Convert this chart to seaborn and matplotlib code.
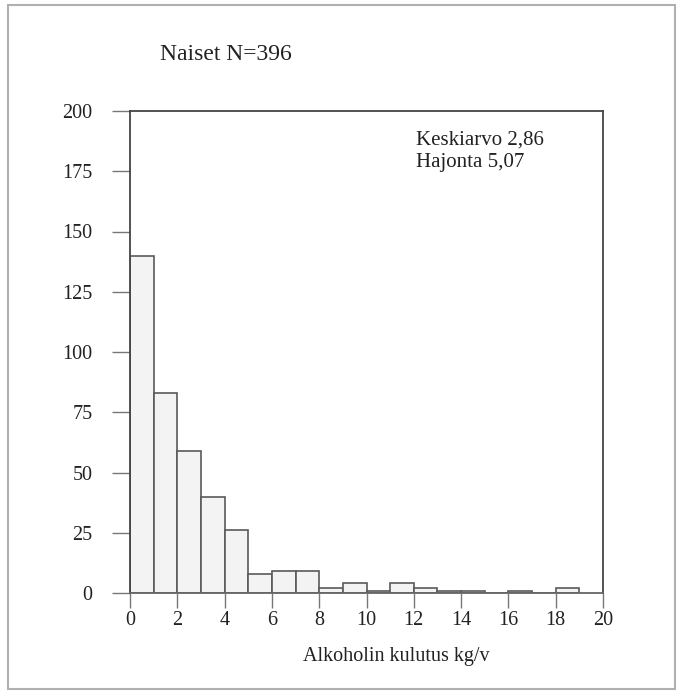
import matplotlib
matplotlib.use("Agg")
import matplotlib.pyplot as plt
import seaborn as sns
import numpy as np
import pandas as pd

# histogram counts, bins of width 1 from 0 to 19
bin_edges = list(range(0, 20))
counts = [140, 83, 59, 40, 26, 8, 9, 9, 2, 4, 1, 4, 2, 1, 1, 0, 1, 0, 2]
x_ticks = [0, 2, 4, 6, 8, 10, 12, 14, 16, 18, 20]
y_ticks = [0, 25, 50, 75, 100, 125, 150, 175, 200]

title_text = "Naiset N=396"
stats_text = "Keskiarvo 2,86\nHajonta 5,07"
x_label = "Alkoholin kulutus kg/v"

sns.set_style("ticks")
plt.rcParams['font.family'] = ['Liberation Serif', 'DejaVu Serif']

df = pd.DataFrame({"kg": [e + 0.5 for e in bin_edges[:-1]], "n": counts})

fig = plt.figure(figsize=(6.77, 6.93), dpi=100)
ax = fig.add_axes([130 / 677, 1 - 593 / 693, 473 / 677, 482 / 693])

sns.histplot(data=df, x="kg", weights="n", bins=bin_edges, ax=ax,
             color="#f3f3f3", edgecolor="#5a5a5a", linewidth=1.2, alpha=1)

ax.set_xlim(0, 20)
ax.set_ylim(0, 200)
ax.set_xticks(x_ticks)
ax.set_yticks(y_ticks)
ax.set_xlabel("")
ax.set_ylabel("")
for s in ax.spines.values():
    s.set_color("#444444")
    s.set_linewidth(1.3)
ax.spines["bottom"].set_color("#666666")
ax.tick_params(axis="y", length=13, width=1, color="#777777", pad=14,
               labelsize=14.5, labelcolor="#222222")
ax.tick_params(axis="x", length=11, width=1, color="#777777", pad=2,
               labelsize=14.5, labelcolor="#222222")

fig.text(160 / 677, 1 - 55 / 693, title_text, fontsize=17, color="#222222",
         ha="left", va="center")
ax.text(0.605, 0.96, stats_text, transform=ax.transAxes, fontsize=15,
        color="#222222", ha="left", va="top", linespacing=1.3)
fig.text(396 / 677, 1 - 657 / 693, x_label, fontsize=14.5, color="#222222",
         ha="center", va="center")

# scanned page frame
frame = plt.Rectangle((8 / 677, 4 / 693), 667 / 677, 684 / 693,
                      transform=fig.transFigure, fill=False,
                      edgecolor="#b0b0b0", linewidth=1.5)
fig.patches.append(frame)

fig.savefig("out.png", dpi=100)
